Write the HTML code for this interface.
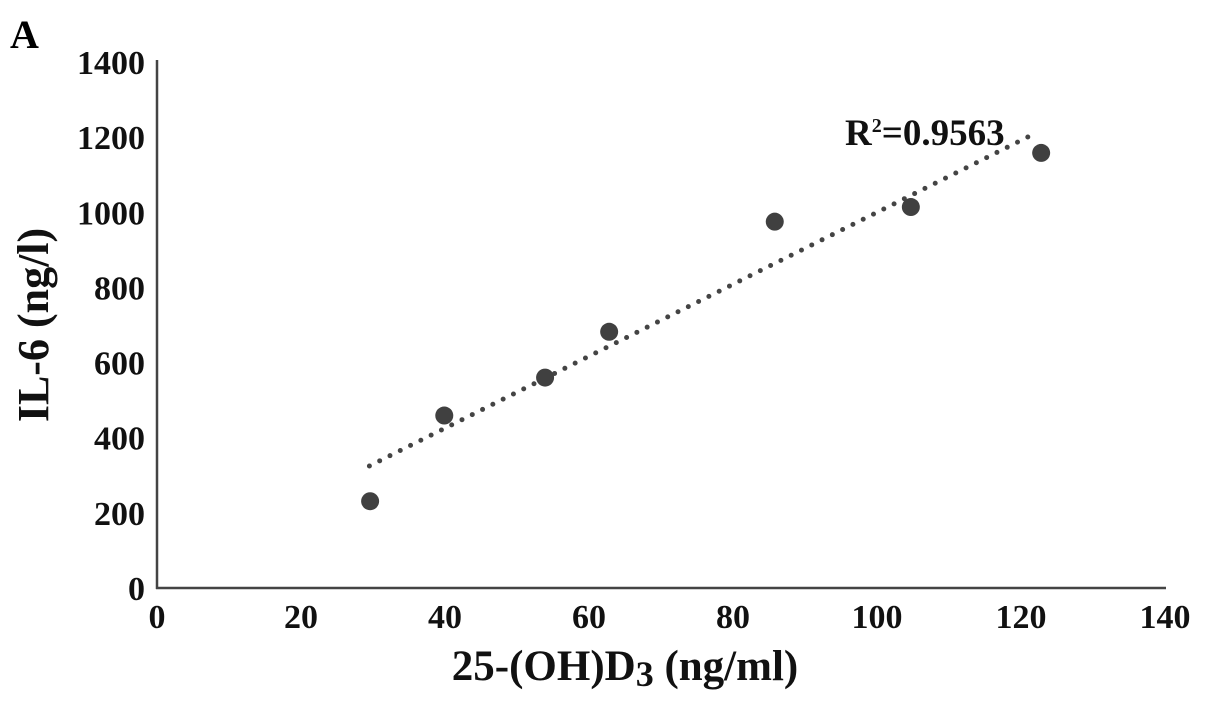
<!DOCTYPE html>
<html><head><meta charset="utf-8"><style>
body{margin:0;background:#fff;}
svg{display:block;font-family:"Liberation Serif",serif;font-weight:bold;}
</style></head><body>
<svg id="chart" width="1205" height="707">
<text x="10" y="48" font-size="40" fill="#000">A</text>
<g id="axes"></g>
<g id="marks"></g>
<text x="845" y="145" font-size="37" fill="#111">R<tspan font-size="20" dy="-13">2</tspan><tspan dy="13">=0.9563</tspan></text>
<text x="625" y="680" text-anchor="middle" font-size="43" fill="#111">25-(OH)D<tspan font-size="36" dy="6">3</tspan><tspan dy="-6"> (ng/ml)</tspan></text>
<text transform="translate(48,325) rotate(-90)" text-anchor="middle" font-size="44" fill="#111">IL-6 (ng/l)</text>
</svg>
<script>
const xTicks=[0,20,40,60,80,100,120,140];
const yTicks=[0,200,400,600,800,1000,1200,1400];
const xVals=[29.6,39.9,53.9,62.8,85.8,104.7,122.8];
const yVals=[231,459,560,682,975,1014,1158];
const trendRange=[29.5,121];
const NS="http://www.w3.org/2000/svg";
const sx=v=>157+v*(1165-157)/140;
const sy=v=>588-v*(588-62)/1400;
function mk(tag,attrs,parent){const e=document.createElementNS(NS,tag);for(const k in attrs)e.setAttribute(k,attrs[k]);parent.appendChild(e);return e;}
const axes=document.getElementById('axes'),marks=document.getElementById('marks');
let l=mk('line',{x1:157,y1:60,x2:157,y2:589,stroke:'#444','stroke-width':2.5},axes);


l=mk('line',{x1:156,y1:588,x2:1166,y2:588,stroke:'#444','stroke-width':2.5},axes);


xTicks.forEach(t=>{const e=mk('text',{x:sx(t),y:628,'text-anchor':'middle','font-size':34,fill:'#111'},axes);e.textContent=t;

});
yTicks.forEach(t=>{const e=mk('text',{x:145,y:sy(t)+12,'text-anchor':'end','font-size':34,fill:'#111'},axes);e.textContent=t;

});
const n=xVals.length,mx=xVals.reduce((a,b)=>a+b)/n,my=yVals.reduce((a,b)=>a+b)/n;
let sxy=0,sxx=0;for(let i=0;i<n;i++){sxy+=(xVals[i]-mx)*(yVals[i]-my);sxx+=(xVals[i]-mx)**2;}
const m=sxy/sxx,b=my-m*mx;
const tl=mk('line',{x1:sx(trendRange[0]),y1:sy(m*trendRange[0]+b),x2:sx(trendRange[1]),y2:sy(m*trendRange[1]+b),stroke:'#444','stroke-width':5,'stroke-dasharray':'0 11.5','stroke-linecap':'round'},marks);


xVals.forEach((x,i)=>{const c=mk('circle',{cx:sx(x),cy:sy(yVals[i]),r:9,fill:'#404040'},marks);

});
</script>
</body></html>
